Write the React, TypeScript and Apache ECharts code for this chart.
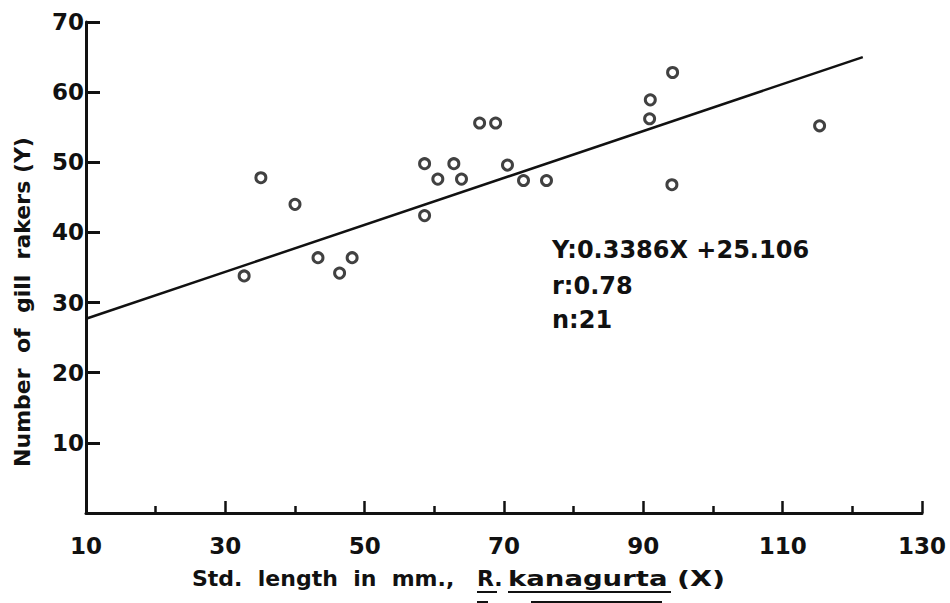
import React, { useEffect, useRef } from "react";
import * as echarts from "echarts";

// Data
const stdLength = [32.7, 35.1, 40, 43.3, 46.4, 48.2, 58.6, 58.6, 60.5, 62.8, 63.9, 66.5, 68.8, 70.5, 72.8, 76.1, 90.9, 91, 94.2, 94.1, 115.3];
const gillRakers = [33.8, 47.8, 44, 36.4, 34.2, 36.4, 42.4, 49.8, 47.6, 49.8, 47.6, 55.6, 55.6, 49.6, 47.4, 47.4, 56.2, 58.9, 62.8, 46.8, 55.2];
const fitX = [10, 121.5];
const fitY = [27.7, 65.0];
const annotation = ["Y:0.3386X +25.106", "r:0.78", "n:21"];
const xTitleParts = ["Std.  length  in  mm.,", "R.", "kanagurta", "(X)"];
const yTitle = "Number  of  gill  rakers (Y)";

const FONT = "DejaVu Sans";
const INK = "#111";

export default function App() {
  const ref = useRef<HTMLDivElement>(null);
  useEffect(() => {
    document.body.style.margin = "0";
    const chart = echarts.init(ref.current!, null, { renderer: "svg" });
    const points = stdLength.map((x, i) => [x, gillRakers[i]]);
    const fit = fitX.map((x, i) => [x, fitY[i]]);
    const textStyle = (text: string, size = 22) => ({
      text,
      fontFamily: FONT,
      fontWeight: "bold",
      fontSize: size,
      fill: INK,
      verticalAlign: "middle",
    });
    chart.setOption({
      animation: false,
      backgroundColor: "#fff",
      grid: { left: 86, right: 28, top: 22, bottom: 90 },
      xAxis: {
        type: "value",
        min: 10,
        max: 130,
        interval: 20,
        axisLine: { show: true, lineStyle: { color: INK, width: 3 } },
        axisTick: { show: true, inside: true, length: 12, lineStyle: { color: INK, width: 2.5 } },
        minorTick: { show: true, splitNumber: 2, length: 7, lineStyle: { color: INK, width: 2.5 } },
        splitLine: { show: false },
        axisLabel: { color: INK, fontFamily: FONT, fontWeight: "bold", fontSize: 23, margin: 21 },
      },
      yAxis: {
        type: "value",
        min: 0,
        max: 70,
        interval: 10,
        axisLine: { show: true, lineStyle: { color: INK, width: 3 } },
        axisTick: { show: true, inside: true, length: 14, lineStyle: { color: INK, width: 3 } },
        splitLine: { show: false },
        axisLabel: {
          color: INK,
          fontFamily: FONT,
          fontWeight: "bold",
          fontSize: 23,
          margin: 2,
          formatter: (v: number) => (v === 0 ? "" : String(v)),
        },
      },
      series: [
        {
          type: "line",
          data: fit,
          symbol: "none",
          lineStyle: { color: INK, width: 2.5 },
          z: 2,
        },
        {
          type: "scatter",
          data: points,
          symbol: "circle",
          symbolSize: 10,
          itemStyle: { color: "#fff", borderColor: INK, borderWidth: 3 },
          z: 3,
        },
      ],
      graphic: [
        { type: "text", x: 552, y: 250, style: textStyle(annotation[0], 24) },
        { type: "text", x: 552, y: 286, style: textStyle(annotation[1], 24) },
        { type: "text", x: 552, y: 320, style: textStyle(annotation[2], 24) },
        { type: "text", x: 192, y: 578, style: textStyle(xTitleParts[0], 22) },
        { type: "text", x: 477, y: 578, style: textStyle(xTitleParts[1], 22) },
        { type: "text", x: 508, y: 578, scaleX: 1.25, style: textStyle(xTitleParts[2], 22) },
        { type: "text", x: 677, y: 578, scaleX: 1.3, style: textStyle(xTitleParts[3], 22) },
        { type: "line", shape: { x1: 477, y1: 592, x2: 497, y2: 592 }, style: { stroke: INK, lineWidth: 2 } },
        { type: "line", shape: { x1: 508, y1: 592, x2: 671, y2: 592 }, style: { stroke: INK, lineWidth: 2 } },
        { type: "line", shape: { x1: 477, y1: 602, x2: 488, y2: 602 }, style: { stroke: INK, lineWidth: 2 } },
        { type: "line", shape: { x1: 531, y1: 602, x2: 662, y2: 602 }, style: { stroke: INK, lineWidth: 2 } },
        {
          type: "text",
          x: 22,
          y: 302,
          rotation: Math.PI / 2,
          style: { ...textStyle(yTitle, 22), align: "center" },
        },
      ],
    });
    return () => chart.dispose();
  }, []);
  return <div ref={ref} style={{ width: 950, height: 603, position: "fixed", left: 0, top: 0 }} />;
}
